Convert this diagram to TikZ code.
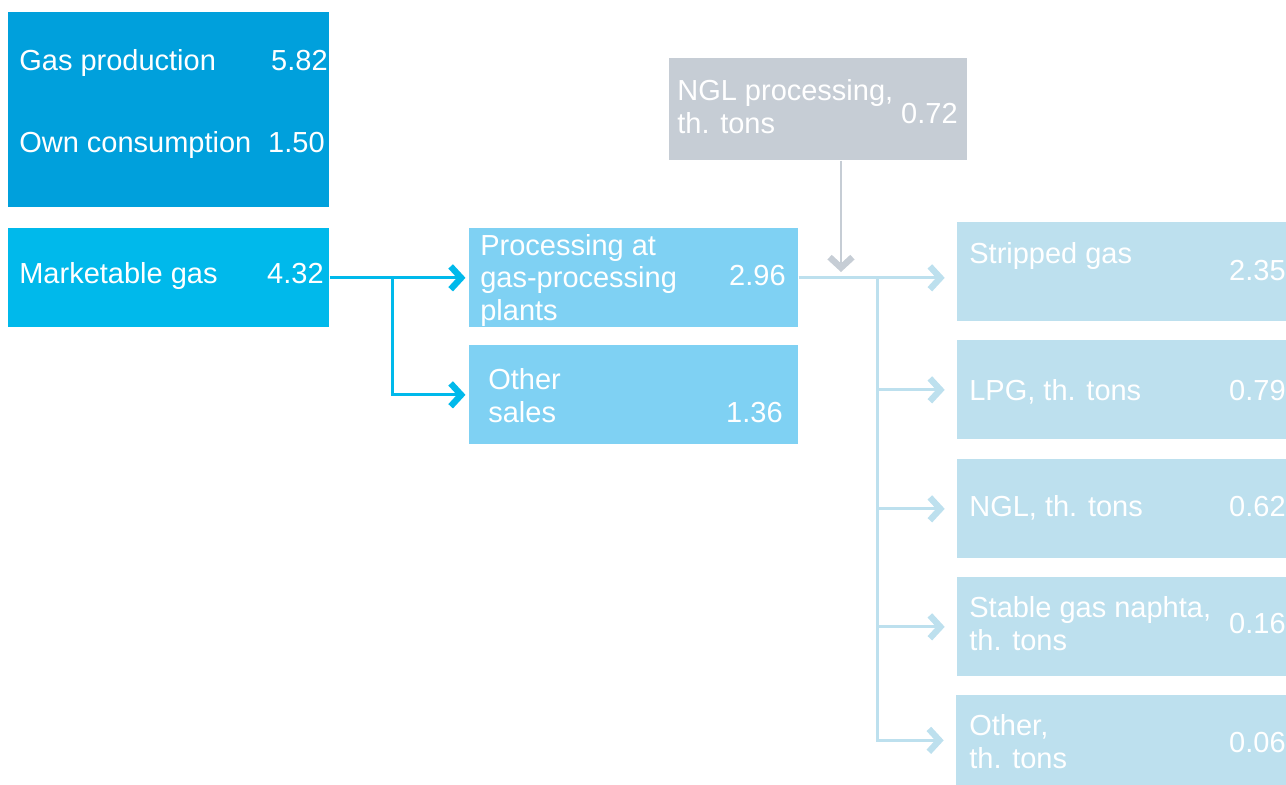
\documentclass[tikz,border=0pt]{standalone}
\usepackage{fontspec}
\setmainfont{Liberation Sans}
\usetikzlibrary{arrows.meta,calc}

\definecolor{prodblue}{RGB}{0,160,220}
\definecolor{mktblue}{RGB}{0,185,235}
\definecolor{procblue}{RGB}{127,209,243}
\definecolor{nglgrey}{RGB}{198,205,213}
\definecolor{paleblue}{RGB}{189,224,238}

\tikzset{
  box/.style={rectangle, inner sep=0pt, anchor=north west, fill=#1},
  txt/.style={inner sep=0pt, text=white, align=left, anchor=base west,
    font=\fontsize{16.5}{18.3}\selectfont},
  num/.style={inner sep=0pt, text=white, anchor=base east,
    font=\fontsize{16.5}{18.3}\selectfont},
  chevron/.style={-{Straight Barb[length=6pt,width=13pt,line width=3.6pt]}, line width=1.6pt, shorten >=2pt}
}

\begin{document}
\begin{tikzpicture}[x=0.02cm,y=-0.02cm]
      \useasboundingbox (0,0) rectangle (1286,785);
      % left column
      \node[box=prodblue, minimum width=6.42cm, minimum height=3.9cm] (prod) at (8,12) {};
      \node[txt] (prodtxt) at (19,70) {Gas production};
      \node[num] (prodnum) at (328,70) {5.82};
      \node[txt] (owntxt) at (19,152) {Own consumption};
      \node[num] (ownnum) at (325,152) {1.50};
      \node[box=mktblue, minimum width=6.42cm, minimum height=1.98cm] (mkt) at (8,228) {};
      \node[txt] (mkttxt) at (19,283) {Marketable gas};
      \node[num] (mktnum) at (324,283) {4.32};
      % middle column
      \node[box=procblue, minimum width=6.58cm, minimum height=1.98cm] (proc) at (469,228) {};
      \node[txt] (proctxt) at (480,320) {Processing at\\gas-processing\\plants};
      \node[num] (procnum) at (786,285) {2.96};
      \node[box=procblue, minimum width=6.58cm, minimum height=1.98cm] (other) at (469,345) {};
      \node[txt] (othertxt) at (488,422) {Other\\sales};
      \node[num] (othernum) at (783,422) {1.36};
      \node[box=nglgrey, minimum width=5.96cm, minimum height=2.04cm] (nglproc) at (669,58) {};
      \node[txt] (nglproctxt) at (677,133) {NGL processing,\\th. tons};
      \node[num] (nglprocnum) at (958,123) {0.72};
      % right column
      \node[box=paleblue, minimum width=6.7cm, minimum height=1.98cm] (strip) at (957,222) {};
      \node[txt] (striptxt) at (969,263) {Stripped gas};
      \node[num] (stripnum) at (1286,280) {2.35};
      \node[box=paleblue, minimum width=6.7cm, minimum height=1.98cm] (lpg) at (957,340) {};
      \node[txt] (lpgtxt) at (969,400) {LPG, th. tons};
      \node[num] (lpgnum) at (1286,400) {0.79};
      \node[box=paleblue, minimum width=6.7cm, minimum height=1.98cm] (ngl) at (957,459) {};
      \node[txt] (ngltxt) at (969,516) {NGL, th. tons};
      \node[num] (nglnum) at (1286,516) {0.62};
      \node[box=paleblue, minimum width=6.7cm, minimum height=1.98cm] (naphta) at (957,577) {};
      \node[txt] (naphtatxt) at (969,650) {Stable gas naphta,\\th. tons};
      \node[num] (naphtanum) at (1286,633) {0.16};
      \node[box=paleblue, minimum width=6.7cm, minimum height=1.8cm] (rest) at (956,695) {};
      \node[txt] (resttxt) at (969,768) {Other,\\th. tons};
      \node[num] (restnum) at (1286,752) {0.06};
      % connectors
      \coordinate (mktsplit) at ($(mkt.east)!0.45!(proc.west)$);
      \draw[chevron, mktblue] (mkt.east) -- (proc.west);
      \draw[chevron, mktblue] (mktsplit) |- (other.west);
      \coordinate (procsplit) at ($(proc.east)!0.5!(proc.east -| strip.west)$);
      \draw[chevron, paleblue, shorten >=7pt] (proc.east) -- (proc.east -| strip.west);
      \foreach \n in {lpg,ngl,naphta,rest}
        \draw[chevron, paleblue, shorten >=7pt] (procsplit) |- (\n.west);
      \coordinate (nglin) at (841,272);
      \draw[chevron, nglgrey, shorten >=0pt] (nglproc.south -| nglin) -- (nglin);
    \end{tikzpicture}
\end{document}
